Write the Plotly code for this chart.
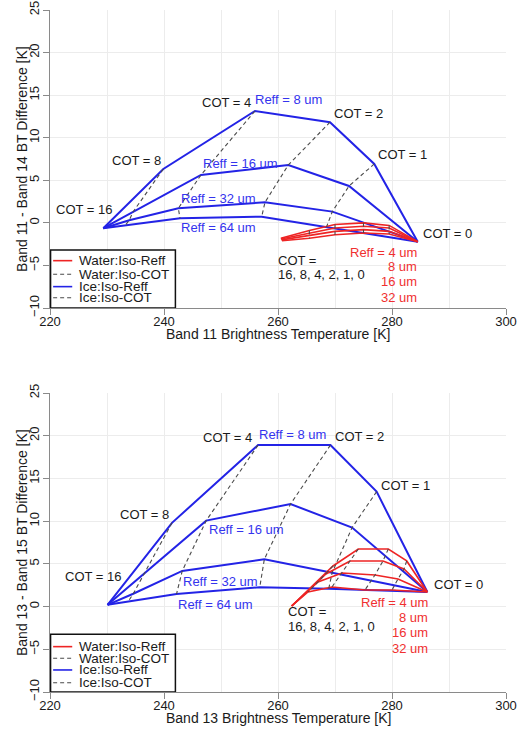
import plotly.graph_objects as go

# ---------------- data ----------------
cot_levels = [16, 8, 4, 2, 1, 0]
ice_reff = [8, 16, 32, 64]
water_reff = [4, 8, 16, 32]

# Top panel: Band 11 BT  vs  Band 11 - Band 14 BTD
top_ice_x = [
    [229.35, 239.88, 255.96, 269.12, 276.89, 284.51],
    [229.35, 234.56, 246.49, 261.81, 272.46, 284.51],
    [229.35, 233.90, 242.51, 257.72, 269.53, 284.51],
    [229.35, 233.20, 242.81, 257.14, 268.51, 284.51],
]
top_ice_y = [
    [-0.63, 6.33, 13.14, 11.82, 6.92, -2.21],
    [-0.63, 1.28, 5.63, 6.80, 4.33, -2.21],
    [-0.63, 0.30, 1.71, 2.42, 1.32, -2.21],
    [-0.63, -0.30, 0.54, 0.73, -0.48, -2.21],
]
top_water_x = [
    [260.5, 265.5, 270.0, 275.0, 279.5, 284.51],
    [260.5, 265.5, 270.0, 275.0, 279.5, 284.51],
    [260.6, 265.5, 270.0, 275.0, 279.5, 284.51],
    [260.7, 265.5, 270.0, 275.0, 279.5, 284.51],
]
top_water_y = [
    [-1.8, -0.9, -0.2, 0.0, -0.3, -2.21],
    [-1.9, -1.2, -0.6, -0.4, -0.6, -2.21],
    [-2.0, -1.5, -1.0, -0.8, -1.0, -2.21],
    [-2.1, -1.8, -1.4, -1.2, -1.3, -2.21],
]

# Bottom panel: Band 13 BT  vs  Band 13 - Band 15 BTD
bot_ice_x = [
    [230.1, 241.4, 256.5, 269.2, 277.3, 286.2],
    [230.1, 236.6, 247.4, 262.2, 273.0, 286.2],
    [230.1, 234.6, 243.2, 257.6, 269.5, 286.2],
    [230.1, 233.7, 242.2, 256.8, 268.9, 286.2],
]
bot_ice_y = [
    [0.2, 9.8, 18.9, 18.9, 13.45, 1.7],
    [0.2, 3.9, 10.06, 12.0, 9.25, 1.7],
    [0.2, 1.5, 4.17, 5.53, 3.97, 1.7],
    [0.2, 0.57, 1.47, 2.26, 2.10, 1.7],
]
bot_water_x = [
    [262.4, 269.65, 274.09, 279.35, 282.58, 286.2],
    [262.4, 268.42, 272.63, 278.42, 282.11, 286.2],
    [262.4, 267.02, 271.23, 277.02, 281.05, 286.2],
    [262.4, 265.26, 269.47, 275.26, 280.00, 286.2],
]
bot_water_y = [
    [0.07, 4.75, 6.74, 6.74, 5.34, 1.7],
    [0.07, 3.82, 5.34, 5.34, 4.40, 1.7],
    [0.07, 2.88, 3.93, 3.70, 3.23, 1.7],
    [0.07, 1.71, 2.29, 1.94, 1.94, 1.7],
]

x_ticks = [220, 240, 260, 280, 300]
y_ticks = [-10, -5, 0, 5, 10, 15, 20, 25]
legend_labels = ["Water:Iso-Reff", "Water:Iso-COT", "Ice:Iso-Reff", "Ice:Iso-COT"]

# ---------------- style ----------------
BLUE = "#2323e6"
BLUE_T = "#3434ee"
RED = "#ee2424"
RED_T = "#f03030"
DASH_C = "#4a4a4a"
FONT = "Liberation Sans, Arial, sans-serif"
TXT = "#1a1a1a"

fig = go.Figure()


def add_panel(ix, iy, wx, wy, xa, ya):
    # ice iso-Reff
    for k in range(len(ice_reff)):
        fig.add_trace(go.Scatter(x=ix[k], y=iy[k], mode="lines", xaxis=xa, yaxis=ya,
                                 line=dict(color=BLUE, width=2), showlegend=False,
                                 hoverinfo="skip"))
    # water iso-Reff
    for k in range(len(water_reff)):
        fig.add_trace(go.Scatter(x=wx[k], y=wy[k], mode="lines", xaxis=xa, yaxis=ya,
                                 line=dict(color=RED, width=1.6), showlegend=False,
                                 hoverinfo="skip"))
    # iso-COT dashed (water and ice)
    for (gx, gy) in ((wx, wy), (ix, iy)):
        for j in range(1, len(cot_levels) - 1):
            fig.add_trace(go.Scatter(x=[r[j] for r in gx], y=[r[j] for r in gy], mode="lines",
                                     xaxis=xa, yaxis=ya,
                                     line=dict(color=DASH_C, width=1.1, dash="4px,3px"),
                                     showlegend=False, hoverinfo="skip"))


add_panel(top_ice_x, top_ice_y, top_water_x, top_water_y, "x", "y")
add_panel(bot_ice_x, bot_ice_y, bot_water_x, bot_water_y, "x2", "y2")

annotations = []


def txt(x, y, s, xr, yr, color=TXT, anchor="left", size=13):
    annotations.append(dict(x=x, y=y, xref=xr, yref=yr, text=s, showarrow=False,
                            xanchor=anchor, yanchor="middle", borderpad=0,
                            font=dict(family=FONT, size=size, color=color)))


# top panel labels
t = ("x", "y")
txt(255.44, 14.08, "COT = 4", *t, anchor="right")
txt(255.79, 14.43, "Reff = 8 um", *t, color=BLUE_T)
txt(269.65, 12.79, "COT = 2", *t)
txt(277.37, 7.98, "COT = 1", *t)
txt(239.65, 7.27, "COT = 8", *t, anchor="right")
txt(246.61, 6.92, "Reff = 16 um", *t, color=BLUE_T)
txt(231.05, 1.52, "COT = 16", *t, anchor="right")
txt(242.89, 2.89, "Reff = 32 um", *t, color=BLUE_T)
txt(242.81, -0.52, "Reff = 64 um", *t, color=BLUE_T)
txt(285.21, -1.30, "COT = 0", *t)
txt(284.61, -3.45, "Reff = 4 um", *t, color=RED_T, anchor="right")
txt(284.61, -5.18, "8 um", *t, color=RED_T, anchor="right")
txt(284.61, -6.94, "16 um", *t, color=RED_T, anchor="right")
txt(284.61, -8.76, "32 um", *t, color=RED_T, anchor="right")
txt(259.77, -4.47, "COT =", *t)
txt(259.77, -6.12, "16, 8, 4, 2, 1, 0", *t)

# bottom panel labels
b = ("x2", "y2")
txt(255.61, 19.85, "COT = 4", *b, anchor="right")
txt(256.49, 20.20, "Reff = 8 um", *b, color=BLUE_T)
txt(269.82, 19.89, "COT = 2", *b)
txt(277.89, 14.15, "COT = 1", *b)
txt(241.05, 10.72, "COT = 8", *b, anchor="right")
txt(247.77, 8.97, "Reff = 16 um", *b, color=BLUE_T)
txt(232.58, 3.50, "COT = 16", *b, anchor="right")
txt(243.10, 2.91, "Reff = 32 um", *b, color=BLUE_T)
txt(242.23, 0.30, "Reff = 64 um", *b, color=BLUE_T)
txt(287.25, 2.53, "COT = 0", *b)
txt(286.54, 0.50, "Reff = 4 um", *b, color=RED_T, anchor="right")
txt(286.54, -1.30, "8 um", *b, color=RED_T, anchor="right")
txt(286.54, -3.06, "16 um", *b, color=RED_T, anchor="right")
txt(286.54, -4.88, "32 um", *b, color=RED_T, anchor="right")
txt(261.63, -0.60, "COT =", *b)
txt(261.63, -2.35, "16, 8, 4, 2, 1, 0", *b)

# axis titles
for (xp, yp, s, ang) in [
    (0.5316, 0.5431, "Band 11 Brightness Temperature [K]", 0),
    (0.5316, 0.0178, "Band 13 Brightness Temperature [K]", 0),
    (0.042, 0.7825, "Band 11 - Band 14 BT Difference [K]", -90),
    (0.042, 0.2585, "Band 13 - Band 15 BT Difference [K]", -90),
]:
    annotations.append(dict(x=xp, y=yp, xref="paper", yref="paper", text=s, showarrow=False,
                            textangle=ang, xanchor="center", yanchor="middle",
                            font=dict(family=FONT, size=14, color=TXT)))

# legends (drawn as boxes)
shapes = []
leg_styles = [(RED, "solid"), (DASH_C, "4px,3px"), (BLUE, "solid"), (DASH_C, "4px,3px")]
for (xr, yr, ytop, rows) in [("x", "y", -3.18, [-4.44, -6.04, -7.49, -8.79]),
                             ("x2", "y2", -3.24, [-4.69, -6.05, -7.42, -8.91])]:
    shapes.append(dict(type="rect", xref=xr, yref=yr, x0=220.1, x1=242.0, y0=-10, y1=ytop,
                       line=dict(color="#111111", width=1.5), fillcolor="white", layer="above"))
    for lab, yy, (c, d) in zip(legend_labels, rows, leg_styles):
        shapes.append(dict(type="line", xref=xr, yref=yr, x0=220.55, x1=223.9, y0=yy, y1=yy,
                           line=dict(color=c, width=1.6 if d == "solid" else 1.1, dash=d),
                           layer="above"))
        annotations.append(dict(x=224.9, y=yy, xref=xr, yref=yr, text=lab, showarrow=False,
                                xanchor="left", yanchor="middle", borderpad=0,
                                font=dict(family=FONT, size=13.5, color=TXT)))

axis_common = dict(showline=True, linecolor="#8a8a8a", linewidth=1, ticks="outside",
                   ticklen=6, tickcolor="#8a8a8a", showgrid=True, gridcolor="#ececec",
                   zeroline=False, automargin=False,
                   tickfont=dict(family=FONT, size=13, color=TXT))
xcommon = dict(axis_common, range=[220, 300], tickvals=x_ticks, ticklabelstandoff=-5,
               minor=dict(dtick=10, tick0=220, showgrid=True, gridcolor="#ececec", ticks=""))
ycommon = dict(axis_common, range=[-10, 25], tickvals=y_ticks, tickangle=-90,
               ticklabelstandoff=-1)

xd = [50 / 523, 506 / 523]
fig.update_layout(
    width=523, height=731,
    margin=dict(l=0, r=0, t=0, b=0, autoexpand=False),
    paper_bgcolor="white", plot_bgcolor="white",
    showlegend=False,
    xaxis=dict(xcommon, domain=xd, anchor="y"),
    yaxis=dict(ycommon, domain=[1 - 308 / 731, 1 - 10 / 731], anchor="x"),
    xaxis2=dict(xcommon, domain=xd, anchor="y2"),
    yaxis2=dict(ycommon, domain=[1 - 692 / 731, 1 - 393 / 731], anchor="x2"),
    annotations=annotations,
    shapes=shapes,
)

fig.write_html("out.html", config={"displayModeBar": False},
               post_script="document.body.style.margin='0';document.body.style.overflow='hidden';")
